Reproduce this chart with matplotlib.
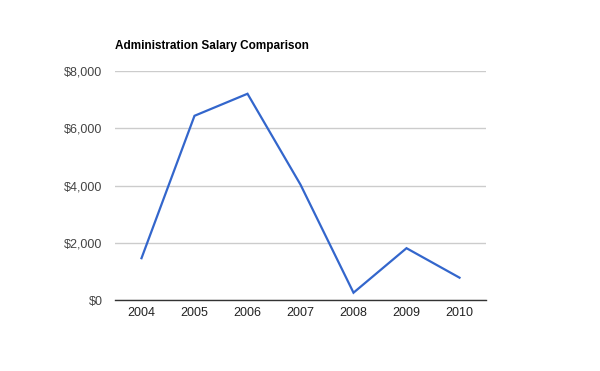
import matplotlib
matplotlib.use("Agg")
import matplotlib.pyplot as plt
from matplotlib.ticker import FuncFormatter

years = ["2004", "2005", "2006", "2007", "2008", "2009", "2010"]
salary = [1460, 6435, 7205, 4030, 255, 1810, 780]
yticks = [0, 2000, 4000, 6000, 8000]

plt.rcParams['font.family'] = ['Liberation Sans', 'DejaVu Sans']

fig = plt.figure(figsize=(6, 3.71), dpi=100)
ax = fig.add_axes([115 / 600, 1 - 300 / 371, 371 / 600, 229 / 371])

x = range(len(years))
ax.plot(x, salary, color="#3366cc", linewidth=1.6, solid_joinstyle="miter")

ax.set_xlim(-0.5, len(years) - 0.5)
ax.set_ylim(0, 8000)
ax.set_xticks(list(x))
ax.set_xticklabels(years)
ax.set_yticks(yticks)
ax.yaxis.set_major_formatter(FuncFormatter(lambda v, p: "${:,.0f}".format(v)))

ax.grid(axis="y", color="#cccccc", linewidth=1)
ax.set_axisbelow(True)
for s in ["top", "right", "left"]:
    ax.spines[s].set_visible(False)
ax.spines["bottom"].set_color("#333333")
ax.spines["bottom"].set_linewidth(1)
ax.tick_params(axis="both", length=0, labelsize=9, colors="#444444")
ax.tick_params(axis="y", pad=9)
ax.tick_params(axis="x", pad=5, colors="#222222")

fig.text(115 / 600, 1 - 46 / 371, "Administration Salary Comparison",
         fontsize=8.5, fontweight="bold", va="center", ha="left", color="black")

fig.savefig("out.png", dpi=100)
